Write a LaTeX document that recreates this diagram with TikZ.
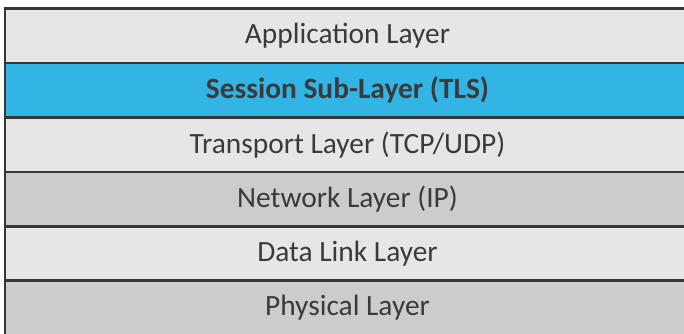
\documentclass[tikz,border=0pt]{standalone}
\usepackage{fontspec}
\setmainfont{Carlito}
\usetikzlibrary{positioning}

\definecolor{edge}{HTML}{363636}
\definecolor{ink}{HTML}{3A3A3A}
\definecolor{light}{HTML}{E6E6E6}
\definecolor{dark}{HTML}{CCCCCC}
\definecolor{tls}{HTML}{32B4E4}

\begin{document}
\begin{tikzpicture}[x=1pt,y=1pt,node distance=0pt]
  \tikzstyle{layer}=[draw=edge,line width=2.5pt,minimum width=685pt,
                     minimum height=54.4pt,inner sep=0pt,outer sep=0pt,
                     text=ink,font=\fontsize{29.4}{32}\selectfont]

  \useasboundingbox (0,0) rectangle (684,-333);
  \clip (0,0) rectangle (684,-333);

  % boxes run past the right edge of the picture
  \node[layer,fill=light] (app)  at (347.5,-35.9) {Application Layer};
  \node[layer,fill=tls,font=\fontsize{29.4}{32}\selectfont\bfseries]
                          (sess) [below=of app]  {Session Sub-Layer (TLS)};
  \node[layer,fill=light] (trans) [below=of sess] {Transport Layer (TCP/UDP)};
  \node[layer,fill=dark]  (net)  [below=of trans] {Network Layer (IP)};
  \node[layer,fill=light] (link) [below=of net]   {Data Link Layer};
  \node[layer,fill=dark]  (phys) [below=of link]  {Physical Layer};
\end{tikzpicture}
\end{document}
